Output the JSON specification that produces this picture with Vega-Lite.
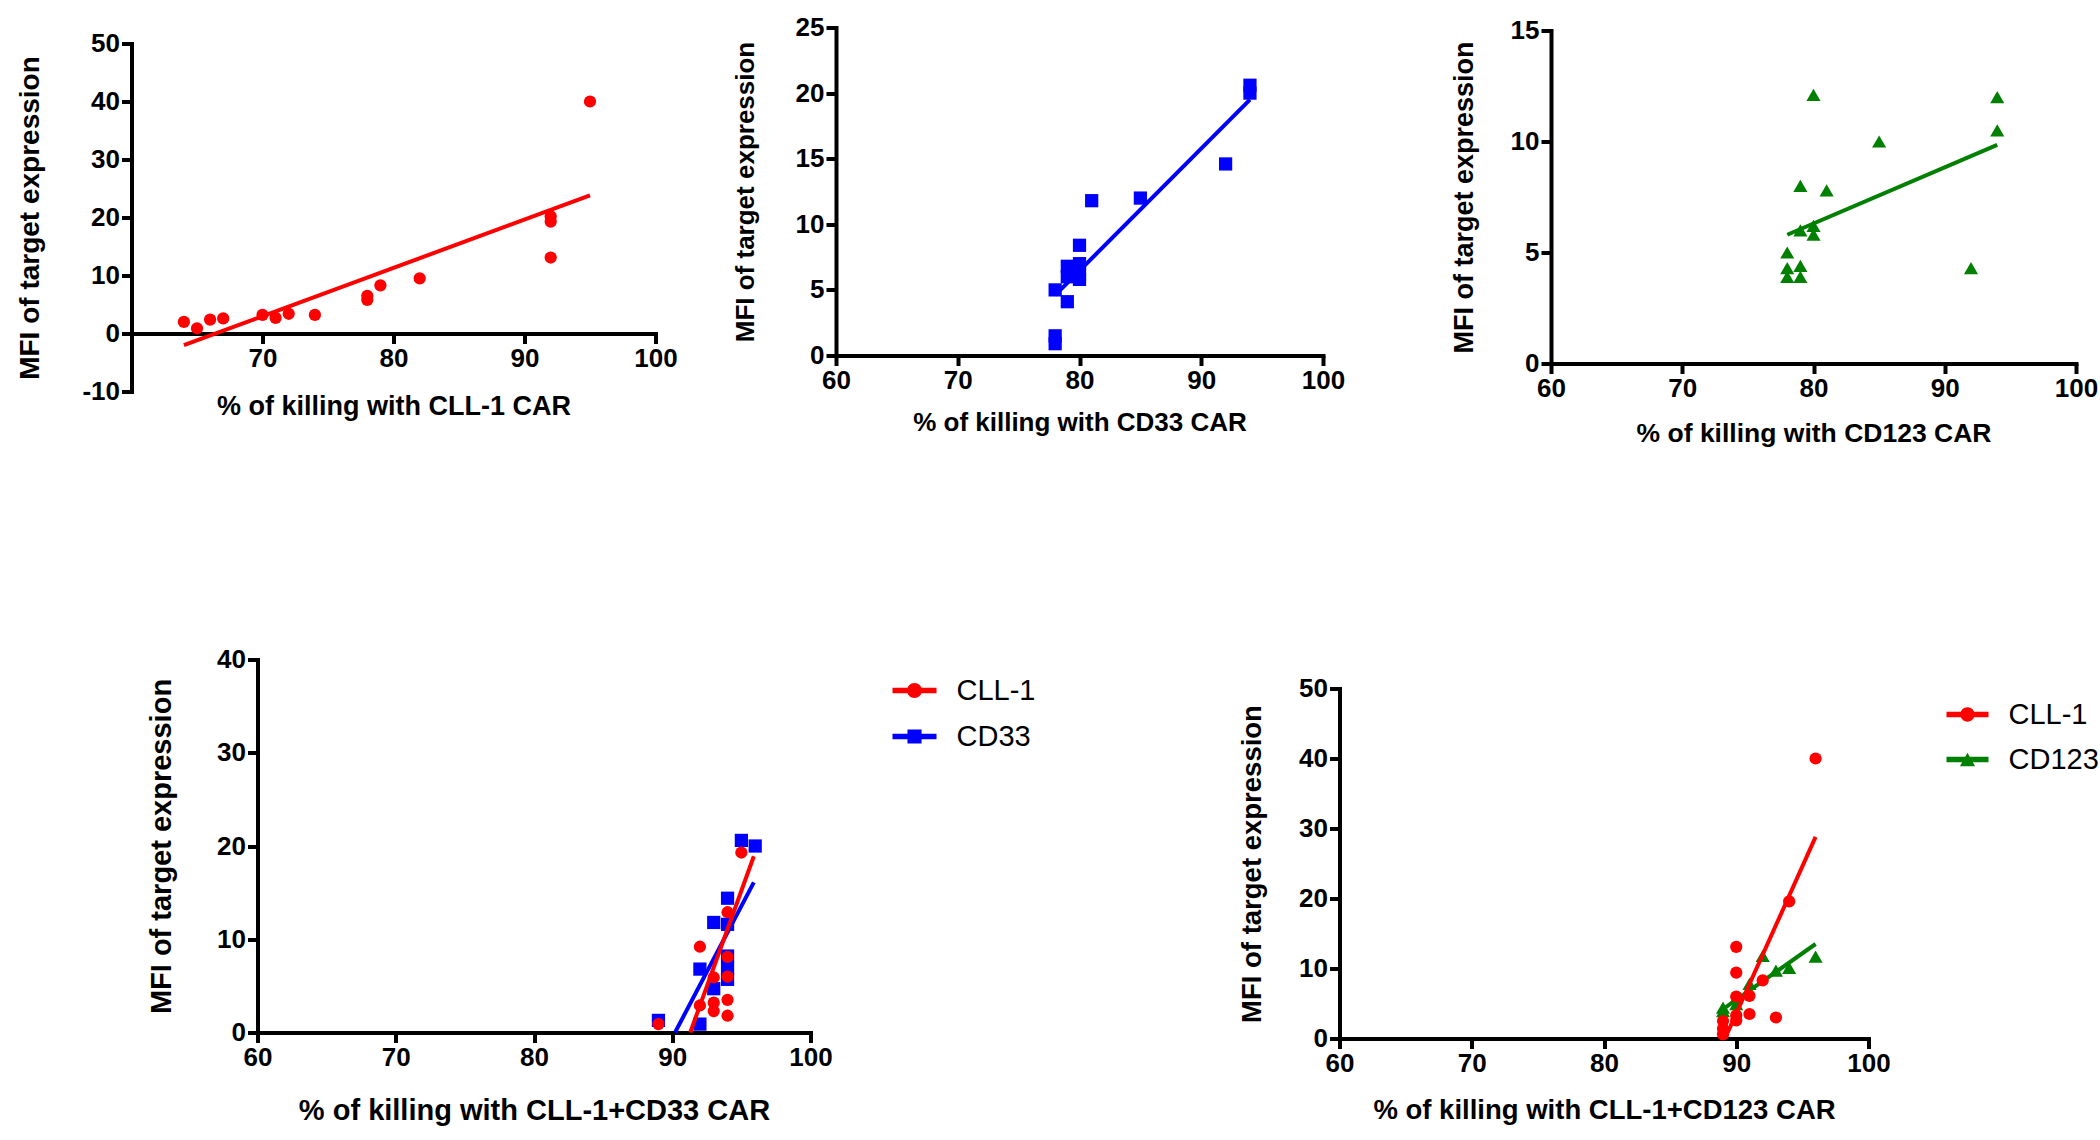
{
  "$schema": "https://vega.github.io/schema/vega-lite/v6.json",
  "background": "white",
  "padding": {"left": 15.5, "top": 14.5, "right": 5, "bottom": 5},
  "config": {
    "view": {"stroke": null},
    "axis": {
      "grid": false, "domainColor": "#000", "domainWidth": 4, "domainCap": "square",
      "tickColor": "#000", "tickWidth": 4, "tickSize": 10,
      "labelColor": "#000", "labelFont": "Liberation Sans", "labelFontWeight": "bold", "labelFontSize": 26,
      "labelPadding": 2, "labelFlush": false, "labelOverlap": false,
      "labelExpr": "datum.value < 0 ? '-' + abs(datum.value) : datum.label",
      "titleColor": "#000", "titleFont": "Liberation Sans", "titleFontWeight": "bold"
    },
    "legend": {
      "title": null, "orient": "none", "padding": 0, "symbolStrokeWidth": 0, "symbolOpacity": 1,
      "labelFont": "Liberation Sans", "labelFontSize": 29, "labelFontWeight": "normal", "labelColor": "#000",
      "labelOffset": 20, "rowPadding": 9
    }
  },
  "datasets": {
    "pts": [
      {"p": 1, "s": "CLL-1", "x": 64, "y": 2.0},
      {"p": 1, "s": "CLL-1", "x": 65, "y": 0.9},
      {"p": 1, "s": "CLL-1", "x": 66, "y": 2.4},
      {"p": 1, "s": "CLL-1", "x": 67, "y": 2.6},
      {"p": 1, "s": "CLL-1", "x": 70, "y": 3.2},
      {"p": 1, "s": "CLL-1", "x": 71, "y": 2.7},
      {"p": 1, "s": "CLL-1", "x": 72, "y": 3.4},
      {"p": 1, "s": "CLL-1", "x": 74, "y": 3.2},
      {"p": 1, "s": "CLL-1", "x": 78, "y": 5.8},
      {"p": 1, "s": "CLL-1", "x": 78, "y": 6.5},
      {"p": 1, "s": "CLL-1", "x": 79, "y": 8.3},
      {"p": 1, "s": "CLL-1", "x": 82, "y": 9.5},
      {"p": 1, "s": "CLL-1", "x": 92, "y": 19.3},
      {"p": 1, "s": "CLL-1", "x": 92, "y": 20.2},
      {"p": 1, "s": "CLL-1", "x": 92, "y": 13.1},
      {"p": 1, "s": "CLL-1", "x": 95, "y": 40.0},
      {"p": 2, "s": "CD33", "x": 78, "y": 0.9},
      {"p": 2, "s": "CD33", "x": 78, "y": 1.5},
      {"p": 2, "s": "CD33", "x": 78, "y": 5.0},
      {"p": 2, "s": "CD33", "x": 79, "y": 4.1},
      {"p": 2, "s": "CD33", "x": 79, "y": 6.8},
      {"p": 2, "s": "CD33", "x": 79, "y": 6.0},
      {"p": 2, "s": "CD33", "x": 80, "y": 7.0},
      {"p": 2, "s": "CD33", "x": 80, "y": 6.2},
      {"p": 2, "s": "CD33", "x": 80, "y": 5.8},
      {"p": 2, "s": "CD33", "x": 80, "y": 8.4},
      {"p": 2, "s": "CD33", "x": 81, "y": 11.8},
      {"p": 2, "s": "CD33", "x": 85, "y": 12.0},
      {"p": 2, "s": "CD33", "x": 92, "y": 14.6},
      {"p": 2, "s": "CD33", "x": 94, "y": 20.6},
      {"p": 2, "s": "CD33", "x": 94, "y": 20.0},
      {"p": 3, "s": "CD123", "x": 80, "y": 12.1},
      {"p": 3, "s": "CD123", "x": 94, "y": 12.0},
      {"p": 3, "s": "CD123", "x": 94, "y": 10.5},
      {"p": 3, "s": "CD123", "x": 85, "y": 10.0},
      {"p": 3, "s": "CD123", "x": 79, "y": 8.0},
      {"p": 3, "s": "CD123", "x": 81, "y": 7.8},
      {"p": 3, "s": "CD123", "x": 79, "y": 6.0},
      {"p": 3, "s": "CD123", "x": 80, "y": 6.2},
      {"p": 3, "s": "CD123", "x": 80, "y": 5.8},
      {"p": 3, "s": "CD123", "x": 78, "y": 5.0},
      {"p": 3, "s": "CD123", "x": 78, "y": 4.3},
      {"p": 3, "s": "CD123", "x": 78, "y": 3.9},
      {"p": 3, "s": "CD123", "x": 79, "y": 4.4},
      {"p": 3, "s": "CD123", "x": 79, "y": 3.9},
      {"p": 3, "s": "CD123", "x": 92, "y": 4.3},
      {"p": 4, "s": "CD33", "x": 89, "y": 1.3},
      {"p": 4, "s": "CD33", "x": 92, "y": 0.9},
      {"p": 4, "s": "CD33", "x": 92, "y": 6.8},
      {"p": 4, "s": "CD33", "x": 93, "y": 4.7},
      {"p": 4, "s": "CD33", "x": 93, "y": 11.8},
      {"p": 4, "s": "CD33", "x": 94, "y": 11.6},
      {"p": 4, "s": "CD33", "x": 94, "y": 14.4},
      {"p": 4, "s": "CD33", "x": 94, "y": 8.2},
      {"p": 4, "s": "CD33", "x": 94, "y": 6.9},
      {"p": 4, "s": "CD33", "x": 94, "y": 5.7},
      {"p": 4, "s": "CD33", "x": 95, "y": 20.6},
      {"p": 4, "s": "CD33", "x": 96, "y": 20.0},
      {"p": 4, "s": "CLL-1", "x": 89, "y": 0.9},
      {"p": 4, "s": "CLL-1", "x": 92, "y": 9.2},
      {"p": 4, "s": "CLL-1", "x": 92, "y": 2.9},
      {"p": 4, "s": "CLL-1", "x": 93, "y": 5.9},
      {"p": 4, "s": "CLL-1", "x": 93, "y": 3.2},
      {"p": 4, "s": "CLL-1", "x": 93, "y": 2.3},
      {"p": 4, "s": "CLL-1", "x": 94, "y": 12.9},
      {"p": 4, "s": "CLL-1", "x": 94, "y": 8.1},
      {"p": 4, "s": "CLL-1", "x": 94, "y": 6.0},
      {"p": 4, "s": "CLL-1", "x": 94, "y": 3.5},
      {"p": 4, "s": "CLL-1", "x": 94, "y": 1.8},
      {"p": 4, "s": "CLL-1", "x": 95, "y": 19.3},
      {"p": 5, "s": "CD123", "x": 89, "y": 3.9},
      {"p": 5, "s": "CD123", "x": 89, "y": 4.4},
      {"p": 5, "s": "CD123", "x": 90, "y": 4.9},
      {"p": 5, "s": "CD123", "x": 90, "y": 5.8},
      {"p": 5, "s": "CD123", "x": 91, "y": 7.8},
      {"p": 5, "s": "CD123", "x": 92, "y": 11.8},
      {"p": 5, "s": "CD123", "x": 93, "y": 9.7},
      {"p": 5, "s": "CD123", "x": 94, "y": 10.1},
      {"p": 5, "s": "CD123", "x": 96, "y": 11.7},
      {"p": 5, "s": "CLL-1", "x": 89, "y": 0.6},
      {"p": 5, "s": "CLL-1", "x": 89, "y": 1.4},
      {"p": 5, "s": "CLL-1", "x": 89, "y": 2.5},
      {"p": 5, "s": "CLL-1", "x": 90, "y": 2.6},
      {"p": 5, "s": "CLL-1", "x": 90, "y": 3.3},
      {"p": 5, "s": "CLL-1", "x": 90, "y": 6.0},
      {"p": 5, "s": "CLL-1", "x": 90, "y": 9.4},
      {"p": 5, "s": "CLL-1", "x": 90, "y": 13.1},
      {"p": 5, "s": "CLL-1", "x": 91, "y": 3.5},
      {"p": 5, "s": "CLL-1", "x": 91, "y": 6.1},
      {"p": 5, "s": "CLL-1", "x": 92, "y": 8.3},
      {"p": 5, "s": "CLL-1", "x": 93, "y": 3.0},
      {"p": 5, "s": "CLL-1", "x": 94, "y": 19.6},
      {"p": 5, "s": "CLL-1", "x": 96, "y": 40.0}
    ],
    "fits": [
      {"p": 1, "s": "CLL-1", "x": 64, "y": -2.0},
      {"p": 1, "s": "CLL-1", "x": 95, "y": 23.8},
      {"p": 2, "s": "CD33", "x": 78, "y": 4.6},
      {"p": 2, "s": "CD33", "x": 94, "y": 19.5},
      {"p": 3, "s": "CD123", "x": 78, "y": 5.8},
      {"p": 3, "s": "CD123", "x": 94, "y": 9.85},
      {"p": 4, "s": "CD33", "x": 90.2, "y": 0},
      {"p": 4, "s": "CD33", "x": 95.9, "y": 16.1},
      {"p": 4, "s": "CLL-1", "x": 91.3, "y": 0},
      {"p": 4, "s": "CLL-1", "x": 95.9, "y": 18.9},
      {"p": 5, "s": "CD123", "x": 89, "y": 4.2},
      {"p": 5, "s": "CD123", "x": 96, "y": 13.5},
      {"p": 5, "s": "CLL-1", "x": 89.15, "y": 0},
      {"p": 5, "s": "CLL-1", "x": 96, "y": 28.8}
    ]
  },
  "bounds": "flush",
  "spacing": 632,
  "resolve": {"scale": {"color": "independent", "shape": "independent"}, "legend": {"color": "independent", "shape": "independent"}},
  "vconcat": [
    {
      "bounds": "flush",
      "spacing": 704.5,
      "hconcat": [
        {
          "bounds": "flush",
          "spacing": 0,
          "vconcat": [
            {"width": 1, "height": 16, "data": {"values": [{"a": 1}]}, "mark": {"type": "point", "opacity": 0}},
            {
              "width": 524, "height": 348,
              "encoding": {
                "x": {"field": "x", "type": "quantitative", "scale": {"domain": [60, 100], "nice": false, "zero": false},
                      "axis": {"values": [70, 80, 90, 100], "title": "% of killing with CLL-1 CAR", "offset": -58, "titleY": 73, "titleBaseline": "middle", "titleFontSize": 27}},
                "y": {"field": "y", "type": "quantitative", "scale": {"domain": [-10, 50], "nice": false, "zero": false},
                      "axis": {"values": [-10, 0, 10, 20, 30, 40, 50], "title": "MFI of target expression", "titleX": -101.5, "titleBaseline": "middle", "titleFontSize": 28}}
              },
              "layer": [
                {"data": {"name": "pts"}, "transform": [{"filter": "datum.p === 1"}],
                 "mark": {"type": "point", "filled": true, "opacity": 1, "shape": "circle", "size": 150, "color": "#ff0000", "strokeWidth": 0}},
                {"data": {"name": "fits"}, "transform": [{"filter": "datum.p === 1"}],
                 "mark": {"type": "line", "color": "#ff0000", "strokeWidth": 4}}
              ]
            }
          ]
        },
        {
          "bounds": "flush",
          "spacing": 228,
          "hconcat": [
            {
              "width": 487, "height": 328,
              "encoding": {
                "x": {"field": "x", "type": "quantitative", "scale": {"domain": [60, 100], "nice": false, "zero": false},
                      "axis": {"values": [60, 70, 80, 90, 100], "title": "% of killing with CD33 CAR", "titleY": 67, "titleBaseline": "middle", "titleFontSize": 26}},
                "y": {"field": "y", "type": "quantitative", "scale": {"domain": [0, 25], "nice": false, "zero": false},
                      "axis": {"values": [0, 5, 10, 15, 20, 25], "title": "MFI of target expression", "titleX": -91, "titleBaseline": "middle", "titleFontSize": 26}}
              },
              "layer": [
                {"data": {"name": "pts"}, "transform": [{"filter": "datum.p === 2"}],
                 "mark": {"type": "point", "filled": true, "opacity": 1, "shape": "square", "size": 175, "color": "#0000ff", "strokeWidth": 0}},
                {"data": {"name": "fits"}, "transform": [{"filter": "datum.p === 2"}],
                 "mark": {"type": "line", "color": "#0000ff", "strokeWidth": 4}}
              ]
            },
            {
              "bounds": "flush",
              "spacing": 0,
              "vconcat": [
                {"width": 1, "height": 2.5, "data": {"values": [{"a": 1}]}, "mark": {"type": "point", "opacity": 0}},
                {
                  "width": 525, "height": 333,
                  "encoding": {
                    "x": {"field": "x", "type": "quantitative", "scale": {"domain": [60, 100], "nice": false, "zero": false},
                          "axis": {"values": [60, 70, 80, 90, 100], "title": "% of killing with CD123 CAR", "titleY": 69.5, "titleBaseline": "middle", "titleFontSize": 26.5}},
                    "y": {"field": "y", "type": "quantitative", "scale": {"domain": [0, 15], "nice": false, "zero": false},
                          "axis": {"values": [0, 5, 10, 15], "title": "MFI of target expression", "titleX": -87, "titleBaseline": "middle", "titleFontSize": 27}}
                  },
                  "layer": [
                    {"data": {"name": "pts"}, "transform": [{"filter": "datum.p === 3"}],
                     "mark": {"type": "point", "filled": true, "opacity": 1, "shape": "triangle-up", "size": 200, "color": "#008000", "strokeWidth": 0}},
                    {"data": {"name": "fits"}, "transform": [{"filter": "datum.p === 3"}],
                     "mark": {"type": "line", "color": "#008000", "strokeWidth": 4}}
                  ]
                }
              ]
            }
          ]
        }
      ]
    },
    {
      "bounds": "flush",
      "spacing": 0,
      "resolve": {"scale": {"color": "independent", "shape": "independent"}, "legend": {"color": "independent", "shape": "independent"}},
      "hconcat": [
        {"width": 126, "height": 1, "data": {"values": [{"a": 1}]}, "mark": {"type": "point", "opacity": 0}},
        {
          "bounds": "flush",
          "spacing": 529,
          "resolve": {"scale": {"color": "independent", "shape": "independent"}, "legend": {"color": "independent", "shape": "independent"}},
          "hconcat": [
            {
              "width": 553, "height": 373,
              "encoding": {
                "x": {"field": "x", "type": "quantitative", "scale": {"domain": [60, 100], "nice": false, "zero": false},
                      "axis": {"values": [60, 70, 80, 90, 100], "title": "% of killing with CLL-1+CD33 CAR", "titleY": 78, "titleBaseline": "middle", "titleFontSize": 29}},
                "y": {"field": "y", "type": "quantitative", "scale": {"domain": [0, 40], "nice": false, "zero": false},
                      "axis": {"values": [0, 10, 20, 30, 40], "title": "MFI of target expression", "titleX": -96, "titleBaseline": "middle", "titleFontSize": 29}}
              },
              "layer": [
                {"data": {"name": "pts"}, "transform": [{"filter": "datum.p === 4"}],
                 "mark": {"type": "point", "filled": true, "opacity": 0, "size": 1},
                 "encoding": {
                   "color": {"field": "s", "type": "nominal", "scale": {"domain": ["CLL-1", "CD33"], "range": ["#ff0000", "#0000ff"]},
                             "legend": {"legendX": 635, "legendY": 9, "symbolSize": 1936}},
                   "shape": {"field": "s", "type": "nominal", "scale": {"domain": ["CLL-1", "CD33"], "range": [
                               "M-1,-0.13H1V0.13H-1Z M-0.34,0A0.34,0.34 0 1,1 0.34,0A0.34,0.34 0 1,1 -0.34,0Z",
                               "M-1,-0.13H1V0.13H-1Z M-0.32,-0.32H0.32V0.32H-0.32Z"]},
                             "legend": {"legendX": 635, "legendY": 9, "symbolSize": 1936}}
                 }},
                {"data": {"name": "pts"}, "transform": [{"filter": "datum.p === 4 && datum.s === 'CD33'"}],
                 "mark": {"type": "point", "filled": true, "opacity": 1, "shape": "square", "size": 175, "color": "#0000ff", "strokeWidth": 0}},
                {"data": {"name": "pts"}, "transform": [{"filter": "datum.p === 4 && datum.s === 'CLL-1'"}],
                 "mark": {"type": "point", "filled": true, "opacity": 1, "shape": "circle", "size": 150, "color": "#ff0000", "strokeWidth": 0}},
                {"data": {"name": "fits"}, "transform": [{"filter": "datum.p === 4 && datum.s === 'CD33'"}],
                 "mark": {"type": "line", "color": "#0000ff", "strokeWidth": 4}},
                {"data": {"name": "fits"}, "transform": [{"filter": "datum.p === 4 && datum.s === 'CLL-1'"}],
                 "mark": {"type": "line", "color": "#ff0000", "strokeWidth": 4}}
              ]
            },
            {
              "bounds": "flush",
              "spacing": 0,
              "resolve": {"scale": {"color": "independent", "shape": "independent"}, "legend": {"color": "independent", "shape": "independent"}},
              "vconcat": [
                {"width": 1, "height": 29, "data": {"values": [{"a": 1}]}, "mark": {"type": "point", "opacity": 0}},
                {
                  "width": 529, "height": 350,
                  "encoding": {
                    "x": {"field": "x", "type": "quantitative", "scale": {"domain": [60, 100], "nice": false, "zero": false},
                          "axis": {"values": [60, 70, 80, 90, 100], "title": "% of killing with CLL-1+CD123 CAR", "titleY": 72, "titleBaseline": "middle", "titleFontSize": 27.5}},
                    "y": {"field": "y", "type": "quantitative", "scale": {"domain": [0, 50], "nice": false, "zero": false},
                          "axis": {"values": [0, 10, 20, 30, 40, 50], "title": "MFI of target expression", "titleX": -87, "titleBaseline": "middle", "titleFontSize": 27.5}}
                  },
                  "layer": [
                    {"data": {"name": "pts"}, "transform": [{"filter": "datum.p === 5"}],
                     "mark": {"type": "point", "filled": true, "opacity": 0, "size": 1},
                     "encoding": {
                       "color": {"field": "s", "type": "nominal", "scale": {"domain": ["CLL-1", "CD123"], "range": ["#ff0000", "#008000"]},
                                 "legend": {"legendX": 607, "legendY": 5, "symbolSize": 1764}},
                       "shape": {"field": "s", "type": "nominal", "scale": {"domain": ["CLL-1", "CD123"], "range": [
                                   "M-1,-0.13H1V0.13H-1Z M-0.34,0A0.34,0.34 0 1,1 0.34,0A0.34,0.34 0 1,1 -0.34,0Z",
                                   "M-1,-0.13H1V0.13H-1Z M0,-0.32L0.36,0.32L-0.36,0.32Z"]},
                                 "legend": {"legendX": 607, "legendY": 5, "symbolSize": 1764}}
                     }},
                    {"data": {"name": "pts"}, "transform": [{"filter": "datum.p === 5 && datum.s === 'CD123'"}],
                     "mark": {"type": "point", "filled": true, "opacity": 1, "shape": "triangle-up", "size": 200, "color": "#008000", "strokeWidth": 0}},
                    {"data": {"name": "fits"}, "transform": [{"filter": "datum.p === 5 && datum.s === 'CD123'"}],
                     "mark": {"type": "line", "color": "#008000", "strokeWidth": 4}},
                    {"data": {"name": "pts"}, "transform": [{"filter": "datum.p === 5 && datum.s === 'CLL-1'"}],
                     "mark": {"type": "point", "filled": true, "opacity": 1, "shape": "circle", "size": 150, "color": "#ff0000", "strokeWidth": 0}},
                    {"data": {"name": "fits"}, "transform": [{"filter": "datum.p === 5 && datum.s === 'CLL-1'"}],
                     "mark": {"type": "line", "color": "#ff0000", "strokeWidth": 4}}
                  ]
                }
              ]
            }
          ]
        }
      ]
    }
  ]
}
